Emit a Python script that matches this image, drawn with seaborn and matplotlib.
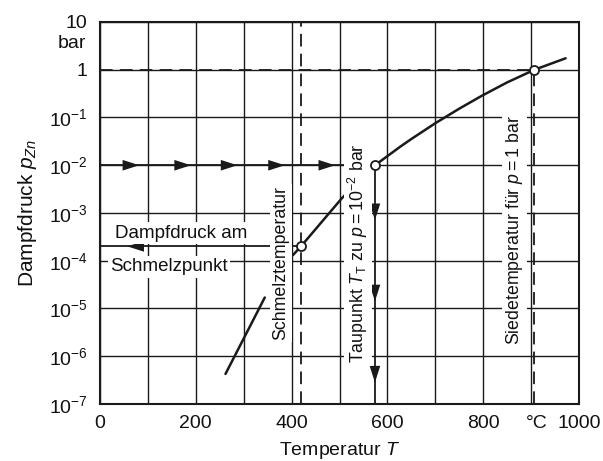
import numpy as np
import pandas as pd
import matplotlib
matplotlib.use("Agg")
import matplotlib.pyplot as plt
import matplotlib.transforms as mtransforms
import seaborn as sns

# ---- data ----
solid_T = [262, 344]
solid_p = [10**-6.37, 10**-4.77]
liquid_T = [403, 419.5, 505, 574, 627, 650, 700, 750, 798, 850, 907, 972]
liquid_p = [10**-3.88, 2e-4, 10**-2.69, 1e-2, 10**-1.61, 10**-1.45, 10**-1.12,
            10**-0.815, 10**-0.54, 10**-0.265, 1.0, 10**0.24]
marked_T = [419.5, 574, 907]
marked_p = [2e-4, 1e-2, 1.0]
melt_T, melt_p = 419.5, 2e-4
dew_T, dew_p = 574, 1e-2
boil_T, boil_p = 907, 1.0
right_arrow_T = [82, 190, 287, 386, 491]
down_arrow_p = [10**-3.15, 10**-4.85, 10**-6.55]
left_arrow_T = [57]
x_ticks = [0, 200, 400, 600, 800, 1000]
x_ticklabels = ["0", "200", "400", "600", "800", "1000"]
y_ticks = [1e-7, 1e-6, 1e-5, 1e-4, 1e-3, 1e-2, 1e-1, 1, 10]
y_ticklabels = [r"$10^{-7}$", r"$10^{-6}$", r"$10^{-5}$", r"$10^{-4}$", r"$10^{-3}$",
                r"$10^{-2}$", r"$10^{-1}$", "1", "10"]

sns.set_theme(style="white")
plt.rcParams["font.family"] = ["Liberation Sans", "DejaVu Sans"]
plt.rcParams["mathtext.fontset"] = "custom"
plt.rcParams["mathtext.rm"] = "Liberation Sans"
plt.rcParams["mathtext.it"] = "Liberation Sans:italic"
plt.rcParams["mathtext.bf"] = "Liberation Sans:bold"

TC = "#111111"
K = "#1a1a1a"
FS_TICK = 14
FS_LAB = 14
FS_H = 13.5
FS_V = 12.8

fig = plt.figure(figsize=(6.03, 4.61), dpi=100)
ax = fig.add_axes([100/603, 1-404/461, 479/603, 382/461])
ax.set_yscale("log")
ax.set_xlim(0, 1000)
ax.set_ylim(1e-7, 10)

# grid
ax.set_xticks(np.arange(0, 1001, 100), minor=True)
ax.grid(True, which="major", axis="both", color=K, lw=1.0)
ax.grid(True, which="minor", axis="x", color=K, lw=1.0)
ax.yaxis.set_minor_locator(matplotlib.ticker.NullLocator())
for s in ax.spines.values():
    s.set_color(K)
    s.set_linewidth(1.5)
    s.set_visible(True)

ax.set_xticks(x_ticks)
ax.set_xticklabels(x_ticklabels)
ax.set_yticks(y_ticks)
ax.set_yticklabels(y_ticklabels)
ax.tick_params(axis="both", which="both", length=0, labelsize=FS_TICK, colors=TC)
ax.tick_params(axis="y", pad=9)
ax.tick_params(axis="x", pad=8)

ax.text(-0.028, 10**0.54, "bar", transform=ax.get_yaxis_transform(), ha="right", va="center",
        fontsize=FS_TICK, color=TC)
off = mtransforms.offset_copy(ax.get_xaxis_transform(), fig=fig, x=0, y=-8, units="points")
ax.text(912, 0, "°C", transform=off, ha="center", va="top", fontsize=FS_TICK, color=TC)

# dashed guide lines
dash = dict(color=K, lw=1.3, dashes=(7, 4), zorder=3)
ax.plot([0, boil_T], [boil_p, boil_p], **dash)
ax.plot([melt_T, melt_T], [1e-7, 10], **dash)
ax.plot([boil_T, boil_T], [1e-7, boil_p], **dash)

# solid guide lines with arrows
ax.plot([0, dew_T], [dew_p, dew_p], color=K, lw=1.3, zorder=3)
ax.plot([dew_T, dew_T], [1e-7, dew_p], color=K, lw=1.3, zorder=3)
ax.plot([0, melt_T], [melt_p, melt_p], color=K, lw=1.3, zorder=3)

ap = dict(arrowstyle="-|>,head_length=1.0,head_width=0.32", color=K, lw=0,
          shrinkA=0, shrinkB=0)
for t in right_arrow_T:
    ax.annotate("", xy=(t, dew_p), xytext=(t - 20, dew_p), arrowprops=ap, zorder=4)
for p in down_arrow_p:
    ax.annotate("", xy=(dew_T, p), xytext=(dew_T, p * 10**0.3), arrowprops=ap, zorder=4)
for t in left_arrow_T:
    ax.annotate("", xy=(t, melt_p), xytext=(t + 20, melt_p), arrowprops=ap, zorder=4)

# vapour pressure curve
df_s = pd.DataFrame({"T": solid_T, "p": solid_p})
df_l = pd.DataFrame({"T": liquid_T, "p": liquid_p})
sns.lineplot(data=df_s, x="T", y="p", ax=ax, color=K, lw=1.8, sort=False, estimator=None, zorder=5)
sns.lineplot(data=df_l, x="T", y="p", ax=ax, color=K, lw=1.8, sort=False, estimator=None, zorder=5)
ax.set_xlabel("Temperatur $T$", fontsize=FS_LAB, labelpad=6, color=TC)
ax.set_ylabel("Dampfdruck $p_{Zn}$", fontsize=15, labelpad=7, color=TC)

# annotation texts (white boxes interrupt grid & curve)
bb = dict(facecolor="white", edgecolor="none", pad=1.5)
ax.text(32, 10**-3.42, "Dampfdruck am", fontsize=FS_H, ha="left", va="center",
        bbox=bb, zorder=6, color=TC)
ax.text(21, 10**-4.13, "Schmelzpunkt", fontsize=FS_H, ha="left", va="center",
        bbox=bb, zorder=6, color=TC)
ax.text(378, 10**-4.05, "Schmelztemperatur", fontsize=FS_V, rotation=90, ha="center",
        va="center", bbox=bb, zorder=6, color=TC)
ax.text(539, 10**-3.85, r"Taupunkt $T_{\mathrm{T}}$ zu $p=10^{-2}$ bar", fontsize=FS_V,
        rotation=90, ha="center", va="center", bbox=bb, zorder=6, color=TC)
ax.text(866, 10**-3.35, r"Siedetemperatur für $p=1$ bar", fontsize=FS_V, rotation=90,
        ha="center", va="center", bbox=bb, zorder=6, color=TC)

# marked points
ax.plot(marked_T, marked_p, ls="none", marker="o", ms=6.5, mfc="white", mec=K, mew=1.3, zorder=7)

fig.savefig("out.png", dpi=100)
